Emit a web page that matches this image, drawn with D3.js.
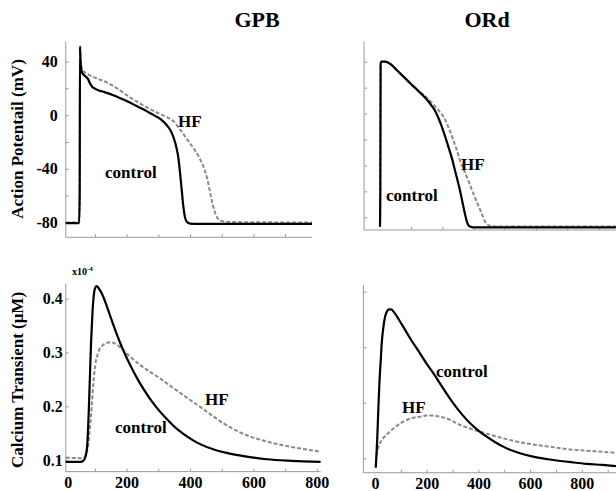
<!DOCTYPE html>
<html><head><meta charset="utf-8">
<script src="https://cdn.jsdelivr.net/npm/d3@7"></script>
<style>
body{margin:0;background:#fff}
text{font-family:"Liberation Serif","Times New Roman",serif;font-weight:bold;fill:#000}
</style>
</head><body>
<svg id="c" width="616" height="491"></svg>
<script>
// ---------- data ----------
const panelTitles = ["GPB", "ORd"];
const apTicks = [-80, -60, -40, -20, 0, 20, 40];
const apLabels = [-80, -40, 0, 40];
const caTicks = [0.1, 0.2, 0.3, 0.4];
const timeLabels = [0, 200, 400, 600, 800];

// GPB action potential [ms, mV]
const gpbApControl = [[8,-80.5],[50,-80.5],[52,-60],[53,51],[54,44],[56,36],[59,32],[63,30.5],[70,29],[78,27],[85,23.5],[92,21],[100,19.8],[115,18.2],[130,17.2],[158,14.8],[180,12.6],[200,10.5],[230,7],[263,3],[290,-0.5],[310,-3.5],[327,-7.5],[340,-12],[350,-18],[358,-25],[364,-33],[369,-44],[374,-56],[379,-68],[384,-76],[390,-79.5],[400,-80.8],[430,-81],[785,-81]];
const gpbApHF = [[8,-80],[50,-80],[52,-60],[53,52],[54,45],[56,38],[59,35],[63,33],[75,31],[90,29],[110,27],[137,24.5],[160,21.5],[200,15],[240,9],[274,4.5],[300,1.5],[327,-1.5],[350,-5],[368,-10.5],[385,-16],[400,-21],[415,-26],[430,-32],[445,-40],[455,-48],[462,-56],[470,-65],[478,-72],[486,-76.5],[496,-78.5],[516,-79.5],[600,-79.8],[785,-80]];
// GPB calcium transient [ms, x1e-4 uM]
const gpbCaControl = [[8,0.097],[55,0.097],[63,0.099],[70,0.106],[76,0.13],[80,0.18],[84,0.25],[88,0.32],[92,0.37],[96,0.403],[101,0.42],[106,0.423],[112,0.419],[121,0.41],[135,0.39],[148,0.368],[165,0.34],[185,0.31],[210,0.278],[240,0.245],[274,0.214],[300,0.194],[326,0.177],[355,0.16],[379,0.149],[410,0.137],[432,0.13],[480,0.119],[537,0.111],[590,0.106],[642,0.102],[720,0.099],[812,0.097]];
const gpbCaHF = [[8,0.105],[55,0.104],[63,0.104],[70,0.108],[78,0.125],[85,0.165],[90,0.2],[95,0.243],[101,0.276],[110,0.299],[121,0.311],[135,0.317],[150,0.319],[165,0.316],[190,0.304],[215,0.29],[245,0.276],[274,0.264],[300,0.254],[326,0.243],[352,0.232],[379,0.221],[405,0.21],[432,0.199],[458,0.188],[484,0.177],[510,0.167],[537,0.158],[590,0.144],[642,0.135],[700,0.127],[747,0.122],[812,0.116]];
// ORd action potential [ms, mV]
const ordApControl = [[0,-87.2],[1,-60],[2,38],[4,40],[16,40],[37,37.5],[55,33.2],[75,28.6],[96,23.6],[118,18.6],[135,14.6],[150,10.8],[165,6.2],[176,2.4],[188,-3.8],[198,-10],[210,-18.5],[219,-25.5],[230,-34],[240,-43.5],[248,-51],[256,-59],[264,-68],[272,-77],[278,-83],[283,-86],[290,-87.3],[299,-87.7],[756,-87.7]];
const ordApHF = [[0,-87.2],[1,-60],[2,38],[4,40],[16,40],[37,37.5],[55,33.2],[75,28.6],[96,23.6],[118,18.8],[140,14.5],[160,10],[176,5.8],[192,1.2],[205,-3],[214,-7.5],[225,-14],[235,-20.5],[246,-28],[256,-35.8],[267,-42.5],[278,-48.7],[290,-56],[299,-61.5],[310,-68],[321,-74.3],[330,-79.5],[337,-83.4],[345,-85.5],[353,-86.7],[370,-87],[756,-87]];
// ORd calcium transient [ms, a.u.]
const ordCaControl = [[3,0.083],[6,0.11],[9,0.139],[13,0.19],[17,0.235],[22,0.275],[26,0.307],[32,0.335],[39,0.355],[47,0.365],[55,0.368],[62,0.368],[77,0.361],[92,0.35],[109,0.337],[140,0.313],[174,0.289],[200,0.27],[226,0.253],[265,0.225],[303,0.199],[335,0.18],[368,0.163],[400,0.15],[432,0.139],[465,0.129],[496,0.121],[530,0.114],[561,0.109],[620,0.102],[690,0.097],[760,0.093],[819,0.09],[880,0.088],[932,0.086]];
const ordCaHF = [[5,0.105],[7,0.109],[12,0.118],[19,0.127],[35,0.138],[58,0.148],[80,0.157],[109,0.166],[140,0.172],[174,0.175],[200,0.177],[226,0.177],[250,0.175],[277,0.172],[300,0.167],[329,0.16],[365,0.154],[406,0.148],[450,0.142],[496,0.136],[560,0.129],[626,0.124],[690,0.12],[754,0.116],[840,0.113],[932,0.11]];

// ---------- drawing ----------
const svg = d3.select("#c");
svg.append("rect").attr("width",616).attr("height",491).attr("fill","#fff");

const axisColor = "#9a9a9a";
const dashColor = "#8a8a8a";

const panels = [
  { x: d3.scaleLinear([0,800],[63.2,316.8]), xExt:[8,785],
    y: d3.scaleLinear([-80,40],[222.5,61.5]), yExt:[-91,55],
    xTicks: d3.range(100,800,100), xLabels:false,
    yTicks: apTicks, yLabels: apLabels, yPad: 8,
    control: gpbApControl, hf: gpbApHF,
    notes: [["HF",178,127],["control",105,178]] },
  { x: d3.scaleLinear([0,800],[63.2,316.8]), xExt:[8,812],
    y: d3.scaleLinear([0.1,0.4],[460.3,298.5]), yExt:[0.079,0.428],
    xTicks: d3.range(0,801,100), xLabels:true,
    yTicks: caTicks, yLabels: caTicks, yPad: 3,
    control: gpbCaControl, hf: gpbCaHF,
    notes: [["HF",205,405],["control",115,433]] },
  { x: d3.scaleLinear([0,800],[380,629.6]), xExt:[-51,756],
    y: d3.scaleLinear([-80,40],[217.3,61.7]), yExt:[-89.8,55.4],
    xTicks: d3.range(100,800,100), xLabels:false,
    yTicks: apTicks, yLabels: [], yPad: 8,
    control: ordApControl, hf: ordApHF,
    notes: [["HF",461,170],["control",386,201]] },
  { x: d3.scaleLinear([0,900],[375,607.65]), xExt:[-45,932],
    y: d3.scaleLinear([0.1,0.4],[458.3,291.7]), yExt:[0.074,0.412],
    xTicks: d3.range(0,901,100), xLabels:true,
    yTicks: caTicks, yLabels: [], yPad: 3,
    control: ordCaControl, hf: ordCaHF,
    notes: [["control",436,377],["HF",402,413]] }
];

panels.forEach(p => {
  const g = svg.append("g");
  const x0 = p.x(p.xExt[0]), x1 = p.x(p.xExt[1]);
  const y0 = p.y(p.yExt[0]), y1 = p.y(p.yExt[1]);

  // x axis
  const xa = g.append("g").attr("transform", `translate(0,${y0})`)
    .call(d3.axisBottom(p.x).tickValues(p.xTicks).tickSize(-3).tickPadding(5)
      .tickFormat(d => (p.xLabels && d % 200 === 0) ? d3.format("d")(d) : ""));
  xa.select(".domain").remove();
  xa.selectAll(".tick line").attr("stroke", axisColor);
  xa.selectAll(".tick text").style("font-size","16px").attr("fill","#000");
  xa.selectAll(".tick").filter(d => d === 0).select("line").remove();
  if (p.x(0) < x0 + 2) {
    xa.selectAll(".tick").filter(d => d === 0).select("text").attr("dx", x0 + 2 - p.x(0));
  }
  g.append("line").attr("x1",x0).attr("x2",x1).attr("y1",y0).attr("y2",y0)
    .attr("stroke",axisColor).attr("stroke-width",1);

  // y axis
  const ya = g.append("g").attr("transform", `translate(${x0},0)`)
    .call(d3.axisLeft(p.y).tickValues(p.yTicks).tickSize(-3).tickPadding(p.yPad)
      .tickFormat(d => p.yLabels.includes(d) ? String(d) : ""));
  ya.select(".domain").remove();
  ya.selectAll(".tick line").attr("stroke", axisColor);
  ya.selectAll(".tick text").style("font-size","16px").attr("fill","#000");
  g.append("line").attr("x1",x0).attr("x2",x0).attr("y1",y0).attr("y2",y1)
    .attr("stroke",axisColor).attr("stroke-width",1);

  const line = d3.line().x(d => p.x(d[0])).y(d => p.y(d[1])).curve(d3.curveMonotoneX);
  g.append("path").datum(p.hf).attr("d", line).attr("fill","none")
    .attr("stroke",dashColor).attr("stroke-width",2).attr("stroke-dasharray","4,2");
  g.append("path").datum(p.control).attr("d", line).attr("fill","none")
    .attr("stroke","#000").attr("stroke-width",2.2);

  p.notes.forEach(n => {
    g.append("text").attr("x",n[1]).attr("y",n[2]).style("font-size","17px").text(n[0]);
  });
});

// titles
svg.append("text").attr("x",257).attr("y",27).attr("text-anchor","middle")
  .style("font-size","22px").text(panelTitles[0]);
svg.append("text").attr("x",487).attr("y",27).attr("text-anchor","middle")
  .style("font-size","22px").text(panelTitles[1]);

// y-axis titles
svg.append("text").attr("transform","translate(23,139) rotate(-90)")
  .attr("text-anchor","middle").style("font-size","17px").text("Action Potentail (mV)");
svg.append("text").attr("transform","translate(23,380) rotate(-90)")
  .attr("text-anchor","middle").style("font-size","17px").text("Calcium Transient (\u03BCM)");

// exponent note
const ex = svg.append("text").attr("x",72).attr("y",275).style("font-size","10px");
ex.append("tspan").text("x10");
ex.append("tspan").attr("dy",-4).style("font-size","7px").text("-4");
</script>
</body></html>
